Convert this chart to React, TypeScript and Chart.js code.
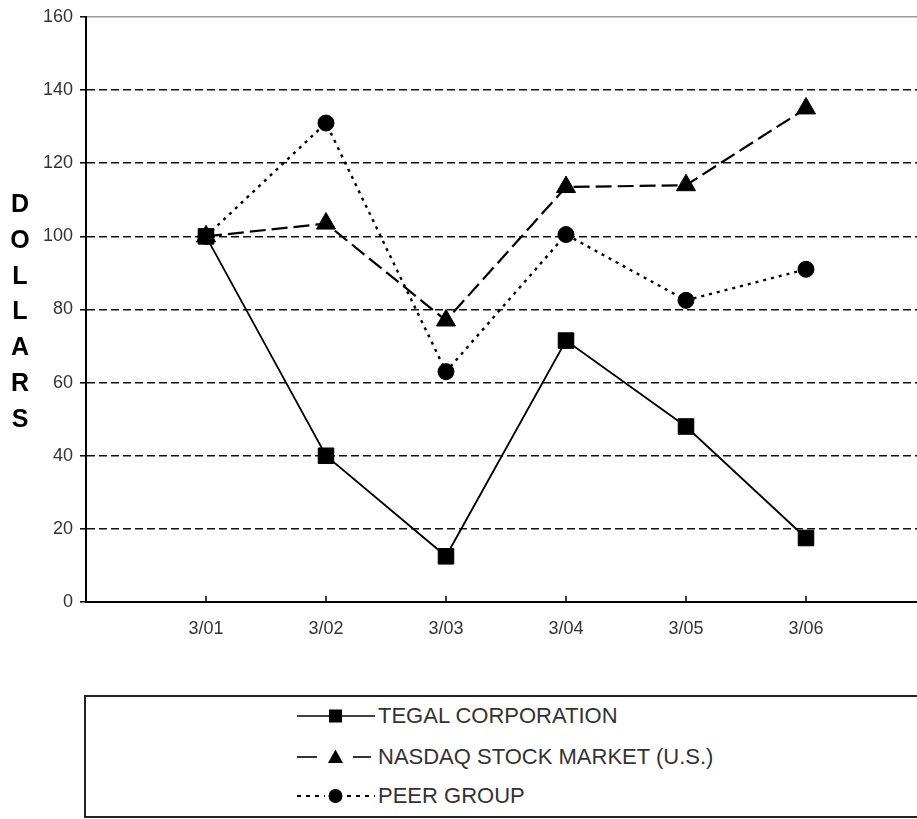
import React, { useEffect, useRef } from "react";
import { Chart, registerables } from "chart.js";

Chart.register(...registerables);

const categories = ["3/01", "3/02", "3/03", "3/04", "3/05", "3/06"];
const tegal = [100, 40, 12.5, 71.5, 48, 17.5];
const nasdaq = [100, 103.5, 77, 113.5, 114, 135];
const peer = [100, 131, 63, 100.5, 82.5, 91];
const yTickValues = [0, 20, 40, 60, 80, 100, 120, 140, 160];
const seriesNames = ["TEGAL CORPORATION", "NASDAQ STOCK MARKET (U.S.)", "PEER GROUP"];
const axisTitle = "DOLLARS";

const FONT = "'Liberation Sans', Arial, Helvetica, sans-serif";

const toPoints = (arr: number[]) => arr.map((v, i) => ({ x: i + 1, y: v }));

const xTickMarks = {
  id: "xTickMarks",
  afterDraw(chart: any) {
    const xs = chart.scales.x;
    const { ctx, chartArea } = chart;
    ctx.save();
    ctx.strokeStyle = "#000";
    ctx.lineWidth = 1.5;
    xs.ticks.forEach((t: any) => {
      const px = xs.getPixelForValue(t.value);
      ctx.beginPath();
      ctx.moveTo(px, chartArea.bottom);
      ctx.lineTo(px, chartArea.bottom - 6);
      ctx.stroke();
    });
    ctx.restore();
  },
};

function LegendSample({ kind }: { kind: number }) {
  if (kind === 0) {
    return (
      <svg width={80} height={20}>
        <line x1={0} y1={10} x2={78} y2={10} stroke="#000" strokeWidth={1.6} />
        <rect x={32} y={3.5} width={13} height={13} fill="#000" />
      </svg>
    );
  }
  if (kind === 1) {
    return (
      <svg width={80} height={20}>
        <line x1={0} y1={10} x2={20} y2={10} stroke="#000" strokeWidth={1.6} />
        <line x1={56} y1={10} x2={74} y2={10} stroke="#000" strokeWidth={1.6} />
        <polygon points="38.5,2.5 46,16 31,16" fill="#000" />
      </svg>
    );
  }
  return (
    <svg width={80} height={20}>
      <line x1={0} y1={10} x2={28} y2={10} stroke="#000" strokeWidth={2.2} strokeDasharray="4 5" />
      <line x1={50} y1={10} x2={78} y2={10} stroke="#000" strokeWidth={2.2} strokeDasharray="4 5" />
      <circle cx={38.5} cy={10} r={7} fill="#000" />
    </svg>
  );
}

export default function App() {
  const canvasRef = useRef<HTMLCanvasElement | null>(null);

  useEffect(() => {
    if (!canvasRef.current) return;
    const chart = new Chart(canvasRef.current, {
      type: "line",
      data: {
        datasets: [
          {
            label: seriesNames[0],
            data: toPoints(tegal),
            borderColor: "#000",
            backgroundColor: "#000",
            borderWidth: 1.8,
            pointStyle: "rect",
            pointRadius: 11,
            pointBorderWidth: 1,
            pointBorderColor: "#000",
            pointBackgroundColor: "#000",
            tension: 0,
          },
          {
            label: seriesNames[1],
            data: toPoints(nasdaq),
            borderColor: "#000",
            backgroundColor: "#000",
            borderWidth: 2.2,
            borderDash: [16, 6],
            pointStyle: "triangle",
            pointRadius: 11,
            pointBorderWidth: 1,
            pointBorderColor: "#000",
            pointBackgroundColor: "#000",
            tension: 0,
          },
          {
            label: seriesNames[2],
            data: toPoints(peer),
            borderColor: "#000",
            backgroundColor: "#000",
            borderWidth: 2.4,
            borderDash: [3, 5],
            pointStyle: "circle",
            pointRadius: 8,
            pointBorderWidth: 1,
            pointBorderColor: "#000",
            pointBackgroundColor: "#000",
            tension: 0,
          },
        ],
      },
      options: {
        animation: false,
        responsive: false,
        maintainAspectRatio: false,
        layout: { autoPadding: false, padding: { top: 17, right: 0, bottom: 0, left: 0 } },
        plugins: {
          legend: { display: false },
          tooltip: { enabled: false },
        },
        scales: {
          x: {
            type: "linear",
            min: 0,
            max: 6.925,
            afterBuildTicks: (scale: any) => {
              scale.ticks = categories.map((_, i) => ({ value: i + 1 }));
            },
            afterFit: (scale: any) => {
              scale.height = 48;
              scale.paddingLeft = 0;
              scale.paddingRight = 0;
            },
            ticks: {
              autoSkip: false,
              maxRotation: 0,
              padding: 16,
              color: "#333",
              font: { family: FONT, size: 18 },
              callback: (v: any) => categories[Number(v) - 1] ?? "",
            },
            grid: { display: true, drawOnChartArea: false, drawTicks: false },
            border: { display: true, color: "#000", width: 2 },
          },
          y: {
            min: 0,
            max: 160,
            afterBuildTicks: (scale: any) => {
              scale.ticks = yTickValues.map((v) => ({ value: v }));
            },
            afterFit: (scale: any) => {
              scale.width = 86;
              scale.paddingTop = 0;
              scale.paddingBottom = 0;
            },
            ticks: {
              padding: 7,
              color: "#333",
              font: { family: FONT, size: 18 },
            },
            grid: {
              color: (ctx: any) => (ctx.tick && ctx.tick.value === 160 ? "#999" : "#111"),
              lineWidth: 1.6,
              tickLength: 6,
              tickColor: "#000",
              tickWidth: 1.5,
              tickBorderDash: [],
            },
            border: {
              display: true,
              color: "#000",
              width: 2,
              dash: (ctx: any) => (ctx.tick && ctx.tick.value === 160 ? [] : [8, 4]),
            },
          },
        },
      },
      plugins: [xTickMarks],
    } as any);
    return () => chart.destroy();
  }, []);

  const rowCenters = [716, 757, 796];

  return (
    <div
      style={{
        position: "absolute",
        left: 0,
        top: 0,
        width: 917,
        height: 819,
        overflow: "hidden",
        background: "#fff",
        fontFamily: FONT,
      }}
    >
      <canvas
        ref={canvasRef}
        width={917}
        height={650}
        style={{ position: "absolute", left: 0, top: 0, width: 917, height: 650 }}
      />
      {axisTitle.split("").map((ch, i) => (
        <div
          key={i}
          style={{
            position: "absolute",
            left: 5,
            width: 30,
            top: 203 + i * 35.8 - 14,
            height: 28,
            lineHeight: "28px",
            textAlign: "center",
            fontWeight: "bold",
            fontSize: 25,
            color: "#000",
          }}
        >
          {ch}
        </div>
      ))}
      <div
        style={{
          position: "absolute",
          left: 84,
          top: 695,
          width: 900,
          height: 123,
          boxSizing: "border-box",
          border: "2px solid #222",
        }}
      />
      {seriesNames.map((name, i) => (
        <div
          key={name}
          style={{
            position: "absolute",
            left: 297,
            top: rowCenters[i] - 12,
            height: 24,
            display: "flex",
            alignItems: "center",
            whiteSpace: "nowrap",
          }}
        >
          <LegendSample kind={i} />
          <span style={{ fontSize: 22, color: "#333", marginLeft: 1 }}>{name}</span>
        </div>
      ))}
    </div>
  );
}
